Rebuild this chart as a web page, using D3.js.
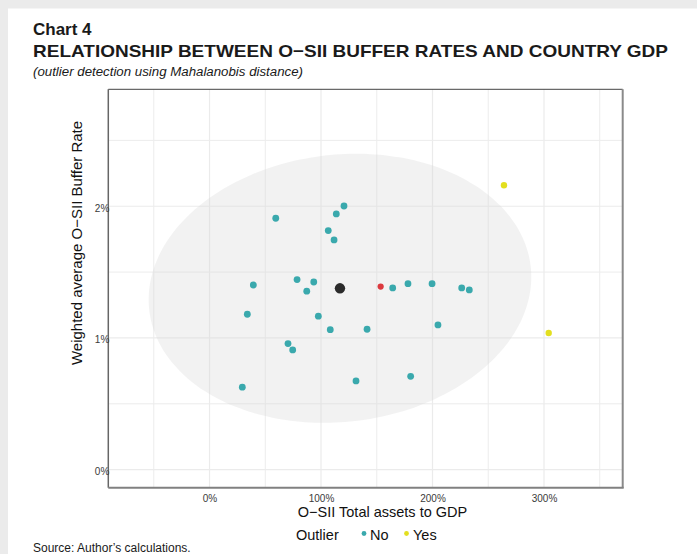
<!DOCTYPE html>
<html>
<head>
<meta charset="utf-8">
<script src="https://cdn.jsdelivr.net/npm/d3@7/dist/d3.min.js"></script>
<style>
  html, body { margin: 0; padding: 0; background: #ebebeb; }
  svg { display: block; }
  text { font-family: "Liberation Sans", Arial, sans-serif; }
</style>
</head>
<body>
<svg id="chart" width="697" height="554"></svg>
<script>
// O-SII total assets to GDP (%) and weighted average buffer rate (%)
const assetsNo = [59.4, 120.6, 113.7, 106.5, 111.7, 39.3, 78.5, 93.5, 87.2, 33.9, 97.6, 108.3,
                  70.4, 74.6, 29.4, 131.4, 164.3, 178.0, 199.6, 226.2, 233.0, 141.3, 204.9, 180.4];
const bufferNo = [1.909, 2.002, 1.942, 1.815, 1.744, 1.402, 1.443, 1.425, 1.355, 1.180, 1.165, 1.063,
                  0.957, 0.909, 0.626, 0.674, 1.380, 1.412, 1.412, 1.380, 1.365, 1.066, 1.099, 0.709];
const assetsYes = [264.1, 304.2];
const bufferYes = [2.160, 1.038];
const assetsHome = [153.5];
const bufferHome = [1.390];
// sample mean and the Mahalanobis cut-off ellipse around it
const centre = { assets: 117.0, buffer: 1.377 };
const ellipseSpread = { assets: 171.6, buffer: 1.0213, rho: 0.084 };

const xTicks = [0, 100, 200, 300];
const xMinor = [-50, 50, 150, 250, 350];
const yTicks = [0, 1, 2];
const yMinor = [0.5, 1.5, 2.5];

const colours = { No: "#3aa9ad", Yes: "#e3df1f", home: "#dc3a3f", centre: "#2b2b2b" };

const svg = d3.select("#chart");

// white card
svg.append("rect").attr("x", 8).attr("y", 8.5).attr("width", 689).attr("height", 546).attr("fill", "#fff");

const panel = { left: 108.3, right: 622.7, top: 89.3, bottom: 487.7 };
const x = d3.scaleLinear().domain([-90.8, 370.6]).range([panel.left, panel.right]);
const y = d3.scaleLinear().domain([-0.137, 2.888]).range([panel.bottom, panel.top]);

// gridlines
const grid = svg.append("g");
grid.selectAll(".vminor").data(xMinor).join("line")
  .attr("x1", d => x(d)).attr("x2", d => x(d)).attr("y1", panel.top).attr("y2", panel.bottom)
  .attr("stroke", "#ececec").attr("stroke-width", 1);
grid.selectAll(".vmajor").data(xTicks).join("line")
  .attr("x1", d => x(d)).attr("x2", d => x(d)).attr("y1", panel.top).attr("y2", panel.bottom)
  .attr("stroke", "#ebebeb").attr("stroke-width", 1.2);
grid.selectAll(".hminor").data(yMinor).join("line")
  .attr("y1", d => y(d)).attr("y2", d => y(d)).attr("x1", panel.left).attr("x2", panel.right)
  .attr("stroke", "#ececec").attr("stroke-width", 1);
grid.selectAll(".hmajor").data(yTicks).join("line")
  .attr("y1", d => y(d)).attr("y2", d => y(d)).attr("x1", panel.left).attr("x2", panel.right)
  .attr("stroke", "#ebebeb").attr("stroke-width", 1.2);

// confidence ellipse
const ellipsePts = d3.range(0, 361, 3).map(deg => {
  const t = deg * Math.PI / 180;
  const a = centre.assets + ellipseSpread.assets * Math.cos(t);
  const b = centre.buffer + ellipseSpread.buffer *
    (ellipseSpread.rho * Math.cos(t) + Math.sqrt(1 - ellipseSpread.rho ** 2) * Math.sin(t));
  return [x(a), y(b)];
});
svg.append("path")
  .attr("d", d3.line().curve(d3.curveCardinalClosed)(ellipsePts.slice(0, -1)))
  .attr("fill", "#d7d7d7").attr("fill-opacity", 0.33);

// panel border
svg.append("line").attr("x1", panel.left).attr("x2", panel.right).attr("y1", panel.top).attr("y2", panel.top)
  .attr("stroke", "#444").attr("stroke-width", 1);
svg.append("line").attr("x1", panel.left).attr("x2", panel.left).attr("y1", panel.top).attr("y2", panel.bottom)
  .attr("stroke", "#666").attr("stroke-width", 1.5);
svg.append("line").attr("x1", panel.right).attr("x2", panel.right).attr("y1", panel.top).attr("y2", panel.bottom)
  .attr("stroke", "#8a8a8a").attr("stroke-width", 2);
svg.append("line").attr("x1", panel.left).attr("x2", panel.right + 1).attr("y1", panel.bottom).attr("y2", panel.bottom)
  .attr("stroke", "#808080").attr("stroke-width", 2);

// points
const pts = svg.append("g");
pts.selectAll(".no").data(d3.zip(assetsNo, bufferNo)).join("circle")
  .attr("cx", d => x(d[0])).attr("cy", d => y(d[1])).attr("r", 3.4).attr("fill", colours.No);
pts.selectAll(".yes").data(d3.zip(assetsYes, bufferYes)).join("circle")
  .attr("cx", d => x(d[0])).attr("cy", d => y(d[1])).attr("r", 3.2).attr("fill", colours.Yes);
pts.selectAll(".home").data(d3.zip(assetsHome, bufferHome)).join("circle")
  .attr("cx", d => x(d[0])).attr("cy", d => y(d[1])).attr("r", 3.1).attr("fill", colours.home);
pts.append("circle").attr("cx", x(centre.assets)).attr("cy", y(centre.buffer)).attr("r", 5.2)
  .attr("fill", colours.centre);

// axes
const fmt = d => d + "%";
const xAxis = svg.append("g").attr("transform", `translate(0,${panel.bottom})`)
  .call(d3.axisBottom(x).tickValues(xTicks).tickFormat(fmt).tickSize(0).tickPadding(7));
const yAxis = svg.append("g").attr("transform", `translate(${panel.left + 1},0)`)
  .call(d3.axisLeft(y).tickValues(yTicks).tickFormat(fmt).tickSize(0).tickPadding(0));
[xAxis, yAxis].forEach(g => {
  g.select(".domain").remove();
  g.attr("font-size", 10).attr("font-family", "'Liberation Sans', Arial, sans-serif");
  g.selectAll("text").attr("fill", "#3a3a3a");
});
yAxis.selectAll("text").attr("dy", "0.5em");

// axis titles
svg.append("text").attr("x", 382.5).attr("y", 517).attr("text-anchor", "middle")
  .attr("font-size", 14.5).attr("fill", "#111").text("O−SII Total assets to GDP");
svg.append("text").attr("transform", "translate(82,243) rotate(-90)").attr("text-anchor", "middle")
  .attr("font-size", 15).attr("fill", "#111").text("Weighted average O−SII Buffer Rate");

// legend
const legend = svg.append("g");
legend.append("text").attr("x", 296).attr("y", 540).attr("font-size", 14.5).attr("fill", "#111").text("Outlier");
const legendItems = [{ key: "No", dot: 364, label: 370 }, { key: "Yes", dot: 406.5, label: 413 }];
legendItems.forEach(it => {
  legend.append("circle").attr("cx", it.dot).attr("cy", 533.5).attr("r", 2.4).attr("fill", colours[it.key]);
  legend.append("text").attr("x", it.label).attr("y", 540).attr("font-size", 14.5).attr("fill", "#111").text(it.key);
});

// titles and source
svg.append("text").attr("x", 33).attr("y", 35).attr("font-size", 17).attr("font-weight", "bold")
  .attr("fill", "#1a1a1a").text("Chart 4");
svg.append("text").attr("x", 33).attr("y", 56.5).attr("font-size", 17).attr("font-weight", "bold")
  .attr("fill", "#1a1a1a").attr("textLength", 635).attr("lengthAdjust", "spacingAndGlyphs")
  .text("RELATIONSHIP BETWEEN O−SII BUFFER RATES AND COUNTRY GDP");
svg.append("text").attr("x", 33).attr("y", 76).attr("font-size", 12.5).attr("font-style", "italic")
  .attr("fill", "#1a1a1a").attr("textLength", 270).attr("lengthAdjust", "spacingAndGlyphs")
  .text("(outlier detection using Mahalanobis distance)");
svg.append("text").attr("x", 33).attr("y", 552).attr("font-size", 12).attr("fill", "#1a1a1a")
  .text("Source: Author’s calculations.");
</script>
</body>
</html>
